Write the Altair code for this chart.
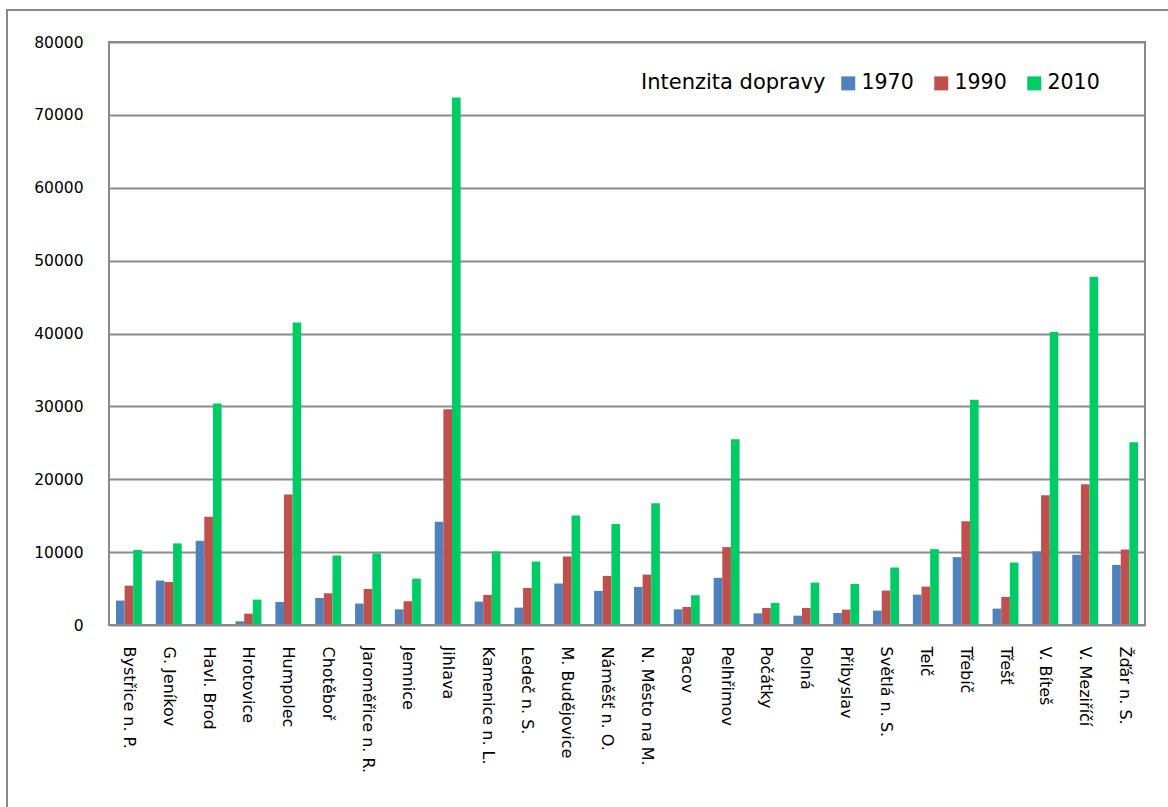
import altair as alt
import pandas as pd

mesta = ["Bystřice n. P.", "G. Jeníkov", "Havl. Brod", "Hrotovice", "Humpolec",
         "Chotěboř", "Jaroměřice n. R.", "Jemnice", "Jihlava", "Kamenice n. L.",
         "Ledeč n. S.", "M. Budějovice", "Náměšť n. O.", "N. Město na M.", "Pacov",
         "Pelhřimov", "Počátky", "Polná", "Přibyslav", "Světlá n. S.", "Telč",
         "Třebíč", "Třešť", "V. Bíteš", "V. Meziříčí", "Žďár n. S."]

v1970 = [3350, 6100, 11550, 500, 3160, 3710, 2940, 2150, 14170, 3210,
         2380, 5690, 4680, 5230, 2150, 6470, 1600, 1280, 1650, 1970, 4170,
         9310, 2250, 10090, 9630, 8250]
v1990 = [5400, 5900, 14850, 1560, 17900, 4350, 4950, 3260, 29600, 4130,
         5090, 9400, 6740, 6920, 2480, 10690, 2340, 2340, 2110, 4720, 5270,
         14220, 3850, 17790, 19300, 10360]
v2010 = [10300, 11200, 30400, 3480, 41500, 9540, 9810, 6370, 72400, 10090,
         8710, 15040, 13850, 16690, 4080, 25490, 3030, 5820, 5640, 7890, 10410,
         30900, 8570, 40200, 47800, 25080]

roky = ["1970", "1990", "2010"]
barvy = ["#4F81BD", "#C0504D", "#00CC66"]
y_ticks = [0, 10000, 20000, 30000, 40000, 50000, 60000, 70000, 80000]

rows = []
for i, m in enumerate(mesta):
    for r, vals in zip(roky, [v1970, v1990, v2010]):
        rows.append({"mesto": m, "rok": r, "hodnota": vals[i]})
df = pd.DataFrame(rows)

FONT = "DejaVu Sans"
GRID = "#8a8a8a"

bars = alt.Chart(df).mark_bar().encode(
    x=alt.X("mesto:N", sort=mesta,
            scale=alt.Scale(paddingInner=0.35, paddingOuter=0.175),
            axis=alt.Axis(title=None, labelAngle=90, labelAlign="left",
                          labelBaseline="middle", labelPadding=21, ticks=False,
                          domain=False, labelFont=FONT, labelFontSize=16,
                          labelColor="#000000", labelLimit=400)),
    xOffset=alt.XOffset("rok:N", sort=roky,
                        scale=alt.Scale(paddingInner=0, paddingOuter=0)),
    y=alt.Y("hodnota:Q", scale=alt.Scale(domain=[0, 80000], nice=False),
            axis=alt.Axis(title=None, values=y_ticks, format="d", ticks=False,
                          domain=False, gridColor=GRID, gridWidth=2,
                          gridOpacity=1, labelPadding=26, labelFont=FONT,
                          labelFontSize=15.5, labelColor="#000000")),
    color=alt.Color("rok:N", sort=roky,
                    scale=alt.Scale(domain=roky, range=barvy),
                    legend=alt.Legend(title="Intenzita dopravy", orient="none",
                                      legendX=532, legendY=31,
                                      direction="horizontal", titleOrient="left",
                                      titleFont=FONT, titleFontSize=21,
                                      titleFontWeight="normal", titleLimit=500,
                                      titleColor="#000000", labelFont=FONT,
                                      labelFontSize=20.5, labelColor="#000000",
                                      labelLimit=200,
                                      symbolType="square", symbolSize=196,
                                      symbolStrokeWidth=0, symbolOpacity=1,
                                      labelOffset=3, columnPadding=17,
                                      titlePadding=12, padding=0)),
)

border = alt.Chart(pd.DataFrame({"a": [0]})).mark_rect(
    filled=False, stroke=GRID, strokeWidth=2
).encode(x=alt.value(-102), x2=alt.value(1120), y=alt.value(-32), y2=alt.value(800))

frame = alt.Chart(pd.DataFrame({"a": [0]})).mark_rect(
    filled=False, stroke=GRID, strokeWidth=2
).encode(x=alt.value(0), x2=alt.value(1036), y=alt.value(0), y2=alt.value(583))

chart = alt.layer(border, bars, frame).properties(
    width=1036, height=583,
    padding={"left": 109, "top": 42, "right": 23, "bottom": 182},
    autosize=alt.AutoSizeParams(type="none"),
    background="white",
).configure_view(stroke=GRID, strokeWidth=2)

chart.save("out.html", embed_options={"renderer": "svg", "actions": False})
